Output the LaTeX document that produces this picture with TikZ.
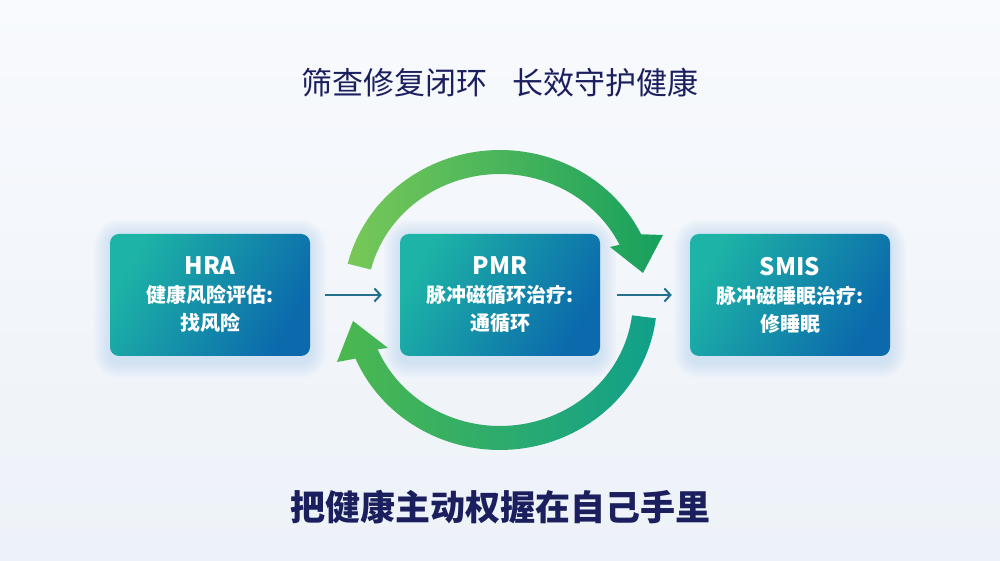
\documentclass[tikz,border=0pt]{standalone}
\usepackage{fontspec}
\newfontfamily\cjk{Noto Sans CJK SC}
\usetikzlibrary{arrows.meta}
\definecolor{bgtop}{HTML}{F8FAFD}
\definecolor{bgbot}{HTML}{EDF2F8}
\definecolor{navy}{HTML}{1B1F5E}
\definecolor{boxa}{HTML}{1DB3A6}
\definecolor{boxb}{HTML}{0B69AC}
\definecolor{arrowc}{HTML}{23708F}
\definecolor{glow}{HTML}{7FB4DE}
\definecolor{gA}{HTML}{78C858}
\definecolor{gB}{HTML}{17A05E}
\definecolor{gC}{HTML}{4CB84E}
\definecolor{gD}{HTML}{10A08A}
\begin{document}
\begin{tikzpicture}[x=1pt,y=1pt,
  stagebox/.style={rounded corners=9pt, minimum width=200pt, minimum height=122pt,
    inner sep=0pt, align=center, text=white,
    font=\cjk\bfseries\fontsize{20}{28}\selectfont,
    left color=boxa, right color=boxb, shading angle=60},
  glowlayer/.style={fill=glow, fill opacity=0.035},
  flow/.style={draw=arrowc, line width=2pt,
    -{Straight Barb[length=6pt,width=13pt,line width=2pt]}},
]
% background
\useasboundingbox (0,0) rectangle (1000,561);
\shade[top color=bgtop, bottom color=bgbot] (0,0) rectangle (1000,561);

% soft glow under the boxes
\foreach \cx in {210,500,790}
  \foreach \i in {2,4,...,16}
    \fill[glowlayer, rounded corners={9+\i}]
      ({\cx-100-\i},{205-6-\i}) rectangle ({\cx+100+\i},{327-2+\i});

% cycle arrows (centre 500,261)
\shade[left color=gA, right color=gB]
  plot[domain=166:26, samples=60] ({500+157*cos(\x)},{261+150*sin(\x)})
  -- (663,326) -- (643,288) -- (610,314)
  -- plot[domain=26:166, samples=60] ({500+133*cos(\x)},{261+126*sin(\x)})
  -- cycle;
\shade[left color=gC, right color=gD]
  plot[domain=-7:-157, samples=60] ({500+157*cos(\x)},{261+150*sin(\x)})
  -- (337,199) -- (353,240) -- (388,213)
  -- plot[domain=-157:-7, samples=60] ({500+133*cos(\x)},{261+126*sin(\x)})
  -- cycle;

% titles
\node[font=\cjk\fontsize{31}{31}\selectfont, text=navy] (title) at (500,478)
  {筛查修复闭环\hspace{0.8em}长效守护健康};
\node[font=\cjk\bfseries\fontsize{35}{35}\selectfont, text=navy] (slogan) at (500,54)
  {把健康主动权握在自己手里};

% boxes
\node[stagebox] (hra) at (210,266)
  {{\fontsize{24}{28}\selectfont HRA}\\健康风险评估:\\找风险};
\node[stagebox] (pmr) at (500,266)
  {{\fontsize{24}{28}\selectfont PMR}\\脉冲磁循环治疗:\\通循环};
\node[stagebox] (smis) at (790,266)
  {{\fontsize{24}{28}\selectfont SMIS}\\脉冲磁睡眠治疗:\\修睡眠};

% connectors
\draw[flow, shorten <=15pt, shorten >=18pt] (hra) -- (pmr);
\draw[flow, shorten <=17pt, shorten >=18pt] (pmr) -- (smis);
\end{tikzpicture}
\end{document}
